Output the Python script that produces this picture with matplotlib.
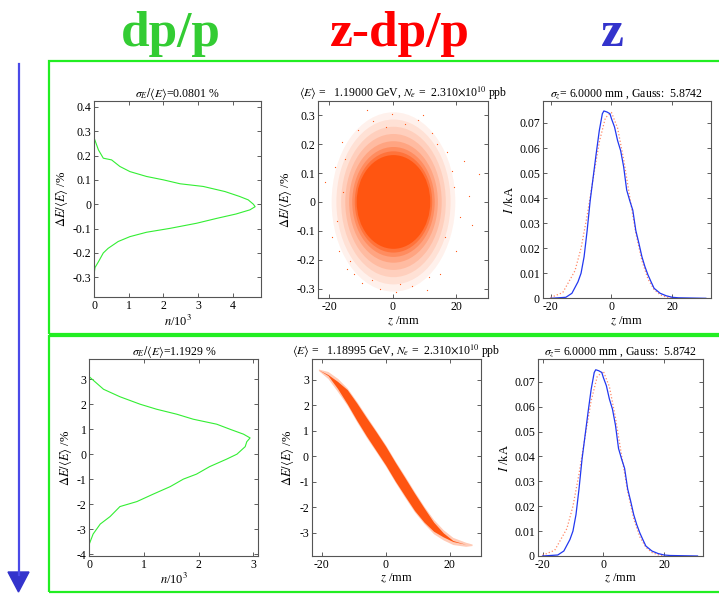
import matplotlib
matplotlib.use("Agg")
import matplotlib.pyplot as plt
from matplotlib.patches import Ellipse, Rectangle, Polygon
from matplotlib.lines import Line2D

plt.rcParams['font.family'] = ['Liberation Serif', 'DejaVu Serif']
plt.rcParams['mathtext.fontset'] = 'stix'
plt.rcParams['axes.unicode_minus'] = False

# ---- energy spread histograms (left column) ----
de_top = [-0.28, -0.26, -0.236, -0.2, -0.181, -0.153, -0.133, -0.115, -0.099, -0.078,
          -0.058, -0.04, -0.023, -0.01, 0.0, 0.018, 0.032, 0.052, 0.073, 0.084,
          0.1, 0.114, 0.134, 0.155, 0.182, 0.189, 0.223, 0.27]
n_top = [0, 0.02, 0.12, 0.26, 0.4, 0.69, 1.03, 1.51, 2.19, 2.96,
         3.54, 4.1, 4.5, 4.65, 4.6, 4.45, 4.2, 3.78, 3.15, 2.48,
         2.0, 1.51, 1.03, 0.74, 0.5, 0.26, 0.12, 0]

de_bot = [-3.6, -3.2, -2.8, -2.5, -2.1, -1.9, -1.6, -1.3, -1.0, -0.8, -0.5, -0.2, 0.0,
          0.3, 0.5, 0.65, 0.8, 1.0, 1.2, 1.4, 1.6, 1.8, 2.0, 2.3, 2.6, 3.1]
n_bot = [0, 0.07, 0.2, 0.38, 0.56, 0.87, 1.17, 1.48, 1.72, 1.96, 2.2, 2.51, 2.7,
         2.85, 2.88, 2.94, 2.82, 2.57, 2.33, 1.9, 1.6, 1.23, 0.93, 0.56, 0.26, 0]

# ---- longitudinal phase space (middle column) ----
# top: round cloud, nested density levels (z half width, dE half width, opacity)
cloud_center = (0.3, 0.0)
cloud_hz = [19.5, 18.0, 16.5, 15.2, 14.0, 13.0, 12.2, 11.6]
cloud_hde = [0.31, 0.285, 0.26, 0.235, 0.21, 0.19, 0.175, 0.162]
cloud_alpha = [0.08, 0.1, 0.12, 0.16, 0.22, 0.3, 0.45, 1.0]
# sparse outliers around the cloud
out_z = [-8.1, -21.2, 27.1, -0.2, 10.8, -3.9, -15.6, 21.3, 17.1, -16.0, -13.3, 15.0,
         18.7, -17.5, 4.0, -6.5, 12.5, 24.0, -19.0, 8.0, -11.0, 2.5, 20.0, -14.5,
         -18.2, 22.5, -12.0, 14.0, 6.0, -2.0, 19.5, -9.5, 16.5, -15.0, 1.0, 9.5,
         -6.0, 25.0, -17.0, 11.5]
out_de = [0.318, 0.068, 0.097, 0.304, -0.306, -0.30, 0.033, -0.053, 0.172, 0.206,
          -0.203, -0.249, 0.108, -0.065, 0.27, -0.27, 0.24, 0.02, -0.12, 0.285,
          0.25, -0.285, -0.17, -0.23, 0.12, 0.14, -0.25, 0.2, -0.29, 0.26, 0.05,
          -0.28, -0.12, 0.15, -0.31, 0.3, 0.28, -0.08, -0.17, -0.26]

# bottom: chirped band, centre line and half thickness
band_z = [-21, -18, -15, -12, -9, -6, -3, 0, 3, 6, 9, 12, 15, 18, 21, 25, 27]
band_de = [3.40, 3.19, 2.80, 2.34, 1.75, 1.16, 0.60, 0.03, -0.60, -1.19, -1.78,
           -2.30, -2.76, -3.08, -3.32, -3.45, -3.47]
band_halo = [0.03, 0.14, 0.26, 0.34, 0.40, 0.42, 0.42, 0.42, 0.42, 0.42, 0.40,
             0.34, 0.28, 0.20, 0.14, 0.08, 0.03]
band_core = [0, 0.02, 0.14, 0.28, 0.34, 0.36, 0.37, 0.37, 0.37, 0.36, 0.34,
             0.28, 0.18, 0.08, 0.02, 0, 0]

# ---- current profile (right column) ----
cur_z = [-20, -15, -13, -11, -10, -9, -8, -7, -6, -5, -4, -3, -2.5, -1.5, -0.5, 0,
         1, 2, 3, 4, 5, 6, 7, 8, 9, 10, 11, 12, 13, 14, 16, 18, 20, 22, 31]
cur_i = [0, 0.0004, 0.002, 0.0066, 0.010, 0.0166, 0.027, 0.039, 0.0485, 0.058,
         0.067, 0.0737, 0.0748, 0.0744, 0.0737, 0.0717, 0.0684, 0.063, 0.059, 0.0525,
         0.0432, 0.039, 0.0352, 0.027, 0.022, 0.0166, 0.0126, 0.0093, 0.0066, 0.004,
         0.002, 0.001, 0.0004, 0.0002, 0]
fit_z = [-20, -16, -12, -10, -8, -6, -4, -2, 0, 2, 4, 6, 8, 10, 12, 14, 16, 18, 20]
fit_i = [0.0003, 0.0023, 0.011, 0.020, 0.033, 0.048, 0.0624, 0.0721, 0.0742, 0.068,
         0.0555, 0.0404, 0.026, 0.015, 0.0077, 0.0035, 0.0014, 0.0005, 0.0001]

# ---- texts ----
titles_top = [r'$\sigma_E/\langle E\rangle$=0.0801 %',
              r'$\langle E\rangle$ =   1.19000 GeV, $N_e$ =  2.310$\times$10$^{10}$ ppb',
              r'$\sigma_z$= 6.0000 mm , Gauss:  5.8742']
titles_bot = [r'$\sigma_E/\langle E\rangle$=1.1929 %',
              r'$\langle E\rangle$ =   1.18995 GeV, $N_e$ =  2.310$\times$10$^{10}$ ppb',
              r'$\sigma_z$= 6.0000 mm , Gauss:  5.8742']
headers = ['dp/p', 'z-dp/p', 'z']
header_colors = ['#33cc33', '#ff0000', '#3333cc']

W, H = 719, 596
fig = plt.figure(figsize=(W / 100, H / 100), dpi=100)


def box(l, r, t, b):
    return [l / W, 1 - b / H, (r - l) / W, (b - t) / H]


def style(ax):
    ax.tick_params(direction='in', top=True, right=True, length=3, width=0.6,
                   labelsize=8.5, pad=2, color='#444444')
    for s in ax.spines.values():
        s.set_color('#555555')
        s.set_linewidth(0.8)


ELABEL = r'$\Delta E/\langle E\rangle$ /%'
tfs = 8.5

# ---------------- top row ----------------
ax = fig.add_axes(box(94.3, 261, 100.7, 297.3))
ax.plot(n_top, de_top, color='#33ee33', lw=0.8)
ax.set_xlim(0, 4.82)
ax.set_ylim(-0.382, 0.425)
ax.set_xticks([0, 1, 2, 3, 4])
ax.set_yticks([-0.3, -0.2, -0.1, 0, 0.1, 0.2, 0.3, 0.4])
ax.set_yticklabels(['-0.3', '-0.2', '-0.1', '0', '0.1', '0.2', '0.3', '0.4'])
ax.set_xlabel(r'$n$/10$^3$', fontsize=9, labelpad=1)
ax.set_ylabel(ELABEL, fontsize=9, labelpad=2)
ax.set_title(titles_top[0], fontsize=tfs, pad=3)
style(ax)

ax = fig.add_axes(box(318.3, 487.7, 100.7, 298.3))
for hz, hd, a in zip(cloud_hz, cloud_hde, cloud_alpha):
    ax.add_patch(Ellipse(cloud_center, 2 * hz, 2 * hd, facecolor='#ff5511',
                         edgecolor='none', alpha=a))
ax.scatter(out_z, out_de, s=0.8, color='#ff5511', linewidths=0)
ax.set_xlim(-23.4, 30)
ax.set_ylim(-0.333, 0.35)
ax.set_xticks([-20, 0, 20])
ax.set_yticks([-0.3, -0.2, -0.1, 0, 0.1, 0.2, 0.3])
ax.set_yticklabels(['-0.3', '-0.2', '-0.1', '0', '0.1', '0.2', '0.3'])
ax.set_xlabel(r'$z$ /mm', fontsize=9, labelpad=1)
ax.set_ylabel(ELABEL, fontsize=9, labelpad=2)
ax.set_title(titles_top[1], fontsize=tfs, pad=3)
style(ax)

ax = fig.add_axes(box(542.7, 710.7, 100.7, 298.3))
ax.plot(fit_z, fit_i, ':', color='#ff8866', lw=0.9)
ax.plot(cur_z, cur_i, color='#2238f0', lw=0.9)
ax.set_xlim(-22.6, 32.6)
ax.set_ylim(0, 0.0789)
ax.set_xticks([-20, 0, 20])
ax.set_yticks([0, 0.01, 0.02, 0.03, 0.04, 0.05, 0.06, 0.07])
ax.set_yticklabels(['0', '0.01', '0.02', '0.03', '0.04', '0.05', '0.06', '0.07'])
ax.set_xlabel(r'$z$ /mm', fontsize=9, labelpad=1)
ax.set_ylabel(r'$I$ /kA', fontsize=9, labelpad=2)
ax.set_title(titles_top[2], fontsize=tfs, pad=3)
style(ax)

# ---------------- bottom row ----------------
ax = fig.add_axes(box(89.3, 258.3, 359.3, 556))
ax.plot(n_bot, de_bot, color='#33ee33', lw=0.8)
ax.set_xlim(0, 3.09)
ax.set_ylim(-4.08, 3.8)
ax.set_xticks([0, 1, 2, 3])
ax.set_yticks([-4, -3, -2, -1, 0, 1, 2, 3])
ax.set_xlabel(r'$n$/10$^3$', fontsize=9, labelpad=1)
ax.set_ylabel(ELABEL, fontsize=9, labelpad=2)
ax.set_title(titles_bot[0], fontsize=tfs, pad=3)
style(ax)

ax = fig.add_axes(box(311.7, 480.7, 359.3, 556))
lo = [c - h for c, h in zip(band_de, band_halo)]
hi = [c + h for c, h in zip(band_de, band_halo)]
ax.fill_between(band_z, lo, hi, color='#ff5511', alpha=0.3, lw=0)
lo = [c - h for c, h in zip(band_de, band_core)]
hi = [c + h for c, h in zip(band_de, band_core)]
ax.fill_between(band_z, lo, hi, color='#ff5511', lw=0)
ax.set_xlim(-23.1, 29.7)
ax.set_ylim(-3.91, 3.81)
ax.set_xticks([-20, 0, 20])
ax.set_yticks([-3, -2, -1, 0, 1, 2, 3])
ax.set_xlabel(r'$z$ /mm', fontsize=9, labelpad=1)
ax.set_ylabel(ELABEL, fontsize=9, labelpad=2)
ax.set_title(titles_bot[1], fontsize=tfs, pad=3)
style(ax)

ax = fig.add_axes(box(537.7, 703.3, 359.3, 556))
ax.plot(fit_z, fit_i, ':', color='#ff8866', lw=0.9)
ax.plot(cur_z, cur_i, color='#2238f0', lw=0.9)
ax.set_xlim(-21.6, 32.9)
ax.set_ylim(0, 0.079)
ax.set_xticks([-20, 0, 20])
ax.set_yticks([0, 0.01, 0.02, 0.03, 0.04, 0.05, 0.06, 0.07])
ax.set_yticklabels(['0', '0.01', '0.02', '0.03', '0.04', '0.05', '0.06', '0.07'])
ax.set_xlabel(r'$z$ /mm', fontsize=9, labelpad=1)
ax.set_ylabel(r'$I$ /kA', fontsize=9, labelpad=2)
ax.set_title(titles_bot[2], fontsize=tfs, pad=3)
style(ax)

# ---------------- frames, arrow, headers ----------------
for t, b in [(61, 334), (335.5, 592)]:
    fig.add_artist(Rectangle((49 / W, 1 - b / H), 680 / W, (b - t) / H,
                             transform=fig.transFigure, fill=False,
                             edgecolor='#22ee22', lw=1.6))

fig.add_artist(Line2D([18.5 / W, 18.5 / W], [1 - 64 / H, 1 - 575 / H],
                      transform=fig.transFigure, color='#4a4ae8', lw=1.6))
fig.add_artist(Polygon([[8 / W, 1 - 572 / H], [29 / W, 1 - 572 / H],
                        [18.5 / W, 1 - 592 / H]], closed=True,
                       transform=fig.transFigure, color='#3333cc'))

for txt, col, x in zip(headers, header_colors, [171, 400, 612]):
    fig.text(x / W, 1 - 46 / H, txt, color=col, fontsize=37, fontweight='bold',
             ha='center', va='baseline')

fig.savefig('out.png', dpi=100)
